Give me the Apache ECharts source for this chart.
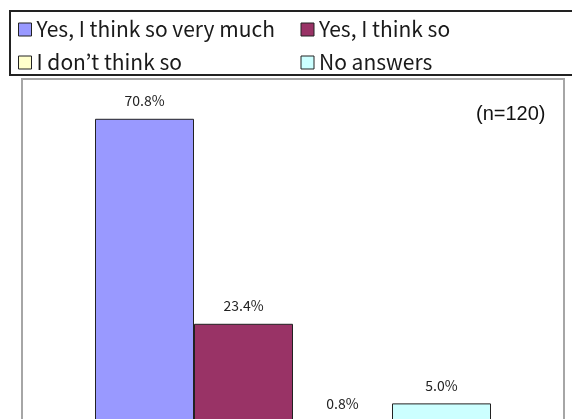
<!DOCTYPE html>
<html>
<head>
<meta charset="utf-8">
<script src="https://cdn.jsdelivr.net/npm/echarts@6/dist/echarts.min.js"></script>
<style>
html,body{margin:0;padding:0;background:#fff;overflow:hidden;width:572px;height:419px;}
#chart{width:572px;height:430px;}
</style>
</head>
<body>
<div id="chart"></div>
<script>
const categories = [''];
const seriesNames = ['Yes, I think so very much', 'Yes, I think so', 'I don\u2019t think so', 'No answers'];
const seriesValues = [70.8, 23.4, 0.8, 5.0];
const seriesColors = ['#9999FF', '#993366', '#FFFFCC', '#CCFFFF'];
const noteText = '(n=120)';

const chart = echarts.init(document.getElementById('chart'), null, {renderer: 'canvas'});

const series = seriesNames.map((name, i) => ({
  name: name,
  type: 'bar',
  data: [seriesValues[i]],
  barWidth: 99,
  barGap: '0%',
  itemStyle: {color: seriesColors[i], borderColor: '#222', borderWidth: 1},
  label: {
    show: true,
    position: 'top',
    distance: 11,
    formatter: p => p.value.toFixed(1) + '%',
    fontFamily: "'Noto Sans CJK JP', sans-serif",
    fontSize: 14,
    color: '#222'
  }
}));

chart.setOption({
  animation: false,
  backgroundColor: '#fff',
  legend: {
    data: seriesNames,
    left: 18,
    top: 18,
    width: 560,
    padding: 0,
    itemGap: 10,
    itemWidth: 13,
    itemHeight: 13,
    icon: 'rect',
    itemStyle: {borderColor: '#222', borderWidth: 1},
    textStyle: {
      fontFamily: "'Noto Sans CJK JP', sans-serif",
      fontSize: 21,
      color: '#1a1a1a',
      width: 254,
      lineHeight: 23
    }
  },
  grid: {
    left: 22, right: 8, top: 79, bottom: 5,
    show: true,
    borderColor: '#a6a6a6',
    borderWidth: 2,
    backgroundColor: 'transparent'
  },
  xAxis: {
    type: 'category',
    data: categories,
    show: false
  },
  yAxis: {
    type: 'value',
    min: 0,
    max: 80,
    show: false,
    splitLine: {show: false}
  },
  series: series,
  graphic: [
    {
      type: 'rect',
      shape: {x: 10, y: 11, width: 600, height: 64},
      style: {fill: 'none', stroke: '#222', lineWidth: 2},
      silent: true
    },
    {
      type: 'text',
      left: 476,
      top: 104,
      style: {
        text: noteText,
        fontFamily: "'Liberation Sans', Arial, sans-serif",
        fontSize: 20,
        fill: '#111'
      }
    }
  ]
});
</script>
</body>
</html>
